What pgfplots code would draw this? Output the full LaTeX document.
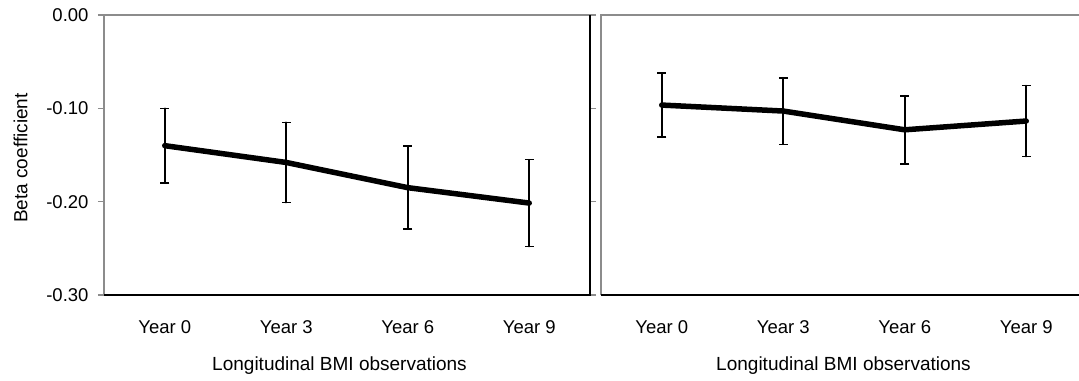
\documentclass[border=0pt]{standalone}
\usepackage{pgfplots}
\pgfplotsset{compat=1.18}
\usepackage{pgfplotstable}
\usepackage{fontspec}
\setmainfont{Liberation Sans}

\definecolor{framegray}{HTML}{8C8C8C}

% Beta coefficients with their confidence half-widths
\pgfplotstableread{
x   y       err
0  -0.140   0.0400
1  -0.158   0.0430
2  -0.185   0.0445
3  -0.2015  0.0465
}\leftdata
\pgfplotstableread{
x   y       err
0  -0.0965  0.0345
1  -0.1029  0.0357
2  -0.1230  0.0365
3  -0.1136  0.0380
}\rightdata

\pgfplotsset{
  panel/.style={
    scale only axis, width=486bp, height=280bp,
    xmin=-0.5, xmax=3.5, ymin=-0.3, ymax=0,
    xtick={0,1,2,3},
    xticklabels={Year 0,Year 3,Year 6,Year 9},
    tick align=outside, major tick length=6bp,
    major x tick style={draw=none},
    axis line style={draw=none},
    tick label style={font=\fontsize{18.5bp}{21bp}\selectfont},
    label style={font=\fontsize{19bp}{22bp}\selectfont},
    xticklabel style={yshift=-16bp},
    xlabel={Longitudinal BMI observations},
    clip=false,
  },
  betaline/.style={black, line width=5.5bp, line cap=round, line join=round,
    no marks,
    error bars/.cd, y dir=both, y explicit,
    error bar style={black, line width=1.6bp},
    error mark options={rotate=90, mark size=4.5bp, line width=1.6bp, black}},
}

\begin{document}
\begin{tikzpicture}
\path[use as bounding box] (0,0) rectangle (1079bp,381bp);
\clip (0,0) rectangle (1079bp,381bp);

\begin{axis}[panel, at={(104bp,86bp)}, anchor=south west,
  ytick={-0.3,-0.2,-0.1,0},
  yticklabels={-0.30,-0.20,-0.10,0.00},
  major y tick style={framegray, line width=1.2bp},
  yticklabel style={xshift=-6bp},
  ylabel={Beta coefficient},
  ylabel style={at={(axis description cs:-0.1718,0.489)}, anchor=center},
  xlabel style={at={(axis description cs:0.4846,-0.2536)}, anchor=center},
]
\addplot+[betaline] table[x=x, y=y, y error=err] {\leftdata};
\draw[framegray, line width=1.5bp] (rel axis cs:0,0) -- (rel axis cs:0,1) -- (rel axis cs:1,1);
\draw[black, line width=1.2bp] (rel axis cs:0,0) -- (rel axis cs:1,0) -- (rel axis cs:1,1);
\end{axis}

\begin{axis}[panel, at={(601bp,86bp)}, anchor=south west,
  ytick=\empty,
  xlabel style={at={(axis description cs:0.499,-0.2536)}, anchor=center},
]
\addplot+[betaline] table[x=x, y=y, y error=err] {\rightdata};
\draw[framegray, line width=1.5bp] (rel axis cs:0,0) -- (rel axis cs:0,1) -- (rel axis cs:1,1);
\draw[black, line width=1.2bp] (rel axis cs:0,0) -- (rel axis cs:1,0) -- (rel axis cs:1,1);
\end{axis}
\end{tikzpicture}
\end{document}
